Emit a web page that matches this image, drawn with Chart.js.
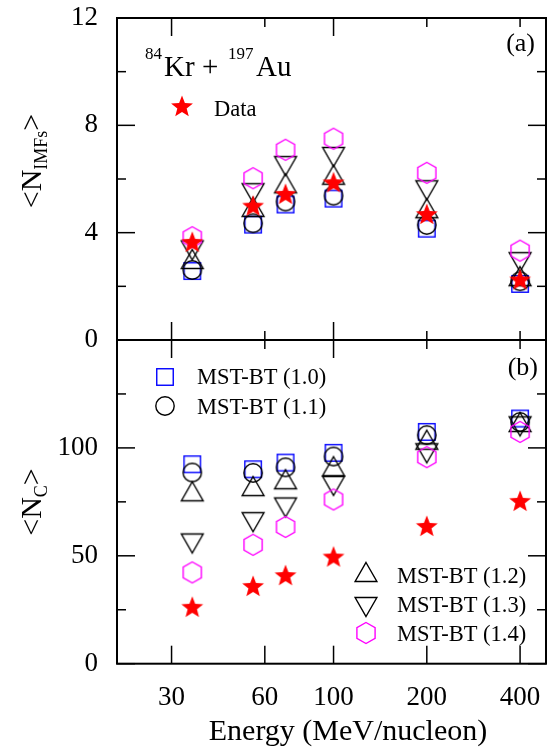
<!DOCTYPE html>
<html><head><meta charset="utf-8">
<script src="https://cdn.jsdelivr.net/npm/chart.js@4/dist/chart.umd.min.js"></script>
<style>
html,body{margin:0;padding:0;background:#fff;}
#wrap{position:relative;width:552px;height:753px;overflow:hidden;background:#fff;}
canvas{position:absolute;left:0;}
#c1{top:0;} #c2{top:320px;}
</style></head><body>
<div id="wrap"><canvas id="c1" width="552" height="360"></canvas><canvas id="c2" width="552" height="433"></canvas></div>
<script>
// ---------- data ----------
const energies = [35, 55, 70, 100, 200, 400];
const imfData = [3.62, 4.97, 5.41, 5.84, 4.66, 2.22];
const imfBT10 = [2.57, 4.30, 5.05, 5.27, 4.15, 2.09];
const imfBT11 = [2.61, 4.35, 5.16, 5.38, 4.29, 2.19];
const imfBT12 = [3.02, 4.96, 5.84, 6.16, 4.91, 2.38];
const imfBT13 = [3.34, 5.47, 6.48, 6.82, 5.58, 2.90];
const imfBT14 = [3.83, 6.03, 7.09, 7.50, 6.23, 3.33];
const ncData = [25.9, 35.6, 40.6, 49.2, 63.4, 75.0];
const ncBT10 = [92.4, 90.1, 93.2, 97.7, 107.4, 113.6];
const ncBT11 = [88.6, 88.4, 91.0, 96.0, 105.9, 112.0];
const ncBT12 = [79.9, 82.3, 85.5, 91.5, 103.8, 112.0];
const ncBT13 = [55.7, 65.6, 72.4, 82.4, 97.5, 110.0];
const ncBT14 = [42.3, 55.1, 63.4, 76.1, 95.7, 107.4];
const xTickValues = [30, 60, 100, 200, 400];
const imfTickValues = [0, 4, 8, 12];
const imfMinorTicks = [2, 6, 10];
const ncTickValues = [0, 50, 100];
const ncMajorMarks = [0, 50, 100, 150];
const ncMinorTicks = [25, 75, 125];
const seriesNames = ['Data', 'MST-BT (1.0)', 'MST-BT (1.1)', 'MST-BT (1.2)', 'MST-BT (1.3)', 'MST-BT (1.4)'];
const xTitle = 'Energy (MeV/nucleon)';
const X_MIN = 20, X_MAX = 485;

// ---------- styles ----------
const FONT = "'Liberation Serif','Times New Roman',serif";
const LW = 1.4;
function marker(draw){ const s=30; const c=document.createElement('canvas'); c.width=s; c.height=s; const g=c.getContext('2d'); g.translate(s/2,s/2); draw(g); return c; }
const mSquare = marker(g=>{g.strokeStyle='#0000ff';g.lineWidth=LW;g.strokeRect(-8.25,-8.25,16.5,16.5);});
const mCircle = marker(g=>{g.strokeStyle='#000';g.lineWidth=LW;g.beginPath();g.arc(0,0,9.2,0,2*Math.PI);g.stroke();});
const mUp = marker(g=>{g.strokeStyle='#000';g.lineWidth=LW;g.beginPath();g.moveTo(0,-9.5);g.lineTo(10.9,9.5);g.lineTo(-10.9,9.5);g.closePath();g.stroke();});
const mDown = marker(g=>{g.strokeStyle='#000';g.lineWidth=LW;g.beginPath();g.moveTo(0,9.5);g.lineTo(10.9,-9.5);g.lineTo(-10.9,-9.5);g.closePath();g.stroke();});
const mHex = marker(g=>{g.strokeStyle='#ff00ff';g.lineWidth=LW;g.beginPath();const R=10.5;for(let k=0;k<6;k++){const a=(-90+60*k)*Math.PI/180;const px=R*Math.cos(a),py=R*Math.sin(a);k?g.lineTo(px,py):g.moveTo(px,py);}g.closePath();g.stroke();});
const mStar = marker(g=>{g.fillStyle='#ff0000';g.beginPath();const R=11.5,r=4.9;for(let k=0;k<10;k++){const a=(-90+36*k)*Math.PI/180;const rr=k%2?r:R;const px=rr*Math.cos(a),py=rr*Math.sin(a);k?g.lineTo(px,py):g.moveTo(px,py);}g.closePath();g.fill();});
const markers = [mStar, mSquare, mCircle, mUp, mDown, mHex];

function pts(arr){ return energies.map((e,i)=>({x:e,y:arr[i]})); }
function datasets(series){
  const order = [0,5,4,3,2,1];
  return order.map(i=>({label:seriesNames[i], data:pts(series[i]), pointStyle:markers[i], pointRadius:12, showLine:false}));
}

function txt(ctx, s, x, y, size, align){ ctx.font = size+'px '+FONT; ctx.textAlign=align||'left'; ctx.textBaseline='alphabetic'; ctx.fillStyle='#000'; ctx.fillText(s,x,y); }
function yTitle(ctx, x, yc, parts){
  ctx.save();
  let total=0; parts.forEach(p=>{ctx.font=p.size+'px '+FONT; p.w=ctx.measureText(p.t).width; total+=p.w;});
  ctx.translate(x,yc); ctx.rotate(-Math.PI/2);
  let u=-total/2;
  parts.forEach(p=>{ctx.font=p.size+'px '+FONT; ctx.fillStyle='#000'; ctx.textAlign='left'; ctx.textBaseline='alphabetic'; ctx.fillText(p.t,u,p.dy||0); u+=p.w;});
  ctx.restore();
}
function img(ctx, m, x, y){ ctx.drawImage(m, x-m.width/2, y-m.height/2); }

const frameTicks = {
  id:'frameTicks',
  beforeDatasetsDraw(chart){
    const o = chart.options.plugins.frameTicks;
    const {ctx, chartArea:a, scales:{x,y}} = chart;
    ctx.save(); ctx.strokeStyle='#000'; ctx.lineWidth=1.5; ctx.lineCap='butt';
    const line=(x1,y1,x2,y2)=>{ctx.beginPath();ctx.moveTo(x1,y1);ctx.lineTo(x2,y2);ctx.stroke();};
    o.yMajor.forEach(v=>{const p=y.getPixelForValue(v); line(a.left,p,a.left+18,p); line(a.right,p,a.right-18,p);});
    o.yMinor.forEach(v=>{const p=y.getPixelForValue(v); line(a.left,p,a.left+9,p); line(a.right,p,a.right-9,p);});
    xTickValues.forEach((v,i)=>{const p=x.getPixelForValue(v); line(p,a.top,p,a.top+o.xTopLen[i]); line(p,a.bottom,p,a.bottom-o.xBotLen[i]);});
    ctx.lineWidth=2; ctx.strokeRect(a.left,a.top,a.right-a.left,a.bottom-a.top);
    ctx.restore();
  }
};

function xScale(show){
  const s = {
    type:'logarithmic', min:X_MIN, max:X_MAX, display:show,
    afterBuildTicks: s=>{ s.ticks = xTickValues.map(v=>({value:v})); },
    ticks:{callback:v=>String(v), autoSkip:false, maxRotation:0, minRotation:0, padding:0, color:'#000', font:{family:FONT,size:27}},
    grid:{display:false, drawTicks:true, tickLength:18}, border:{display:false},
    title:{display:false}
  };
  if (show) s.afterFit = sc=>{ sc.height = 89.3; };
  return s;
}
function yScale(min,max,tickVals){
  return {
    min, max,
    afterBuildTicks: s=>{ s.ticks = tickVals.map(v=>({value:v})); },
    ticks:{autoSkip:false, padding:0, color:'#000', font:{family:FONT,size:27}},
    grid:{display:false, drawTicks:true, tickLength:19}, border:{display:false},
    afterFit: s=>{ s.width = 117; }
  };
}
const common = {responsive:false, animation:false, devicePixelRatio:1};

new Chart(document.getElementById('c1'), {
  type:'scatter',
  data:{datasets:datasets([imfData,imfBT10,imfBT11,imfBT12,imfBT13,imfBT14])},
  options:Object.assign({}, common, {
    layout:{autoPadding:false, padding:{left:0,right:6,top:18,bottom:20}},
    scales:{x:xScale(false), y:yScale(0,12,imfTickValues)},
    plugins:{legend:{display:false}, tooltip:{enabled:false},
      frameTicks:{yMajor:imfTickValues, yMinor:imfMinorTicks, xTopLen:[18,9,18,9,9], xBotLen:[18,9,18,9,9]}}
  }),
  plugins:[frameTicks, {id:'annTop', afterDraw(chart){
    const ctx=chart.ctx;
    txt(ctx,'(a)',535,51,26,'right');
    txt(ctx,'84',145,59,17); txt(ctx,'Kr',164,76,29); txt(ctx,'+',202,76,29);
    txt(ctx,'197',228,59,17); txt(ctx,'Au',256,76,29);
    img(ctx,mStar,182,107); txt(ctx,seriesNames[0],214,116,22.5);
    yTitle(ctx,41,161,[{t:'<',size:30},{t:'N',size:30},{t:'IMFs',size:18,dy:6},{t:'>',size:30}]);
  }}]
});

new Chart(document.getElementById('c2'), {
  type:'scatter',
  data:{datasets:datasets([ncData,ncBT10,ncBT11,ncBT12,ncBT13,ncBT14])},
  options:Object.assign({}, common, {
    layout:{autoPadding:false, padding:{left:0,right:6,top:20,bottom:0}},
    scales:{x:xScale(true), y:yScale(0,150,ncTickValues)},
    plugins:{legend:{display:false}, tooltip:{enabled:false},
      frameTicks:{yMajor:ncMajorMarks, yMinor:ncMinorTicks, xTopLen:[18,9,18,9,9], xBotLen:[18,18,18,18,18]}}
  }),
  plugins:[frameTicks, {id:'annBot', afterDraw(chart){
    const ctx=chart.ctx;
    txt(ctx,'(b)',538,55,26,'right');
    img(ctx,mSquare,165,57); txt(ctx,seriesNames[1],197,64,22.5);
    img(ctx,mCircle,165,86); txt(ctx,seriesNames[2],197,94,22.5);
    img(ctx,mUp,366,252); txt(ctx,seriesNames[3],397,263,22.5);
    img(ctx,mDown,366,287); txt(ctx,seriesNames[4],397,292,22.5);
    img(ctx,mHex,366,313); txt(ctx,seriesNames[5],397,321,22.5);
    yTitle(ctx,41,182,[{t:'<',size:30},{t:'N',size:30},{t:'C',size:18,dy:6},{t:'>',size:30}]);
    txt(ctx,xTitle,348,420,30,'center');
  }}]
});
</script></body></html>
